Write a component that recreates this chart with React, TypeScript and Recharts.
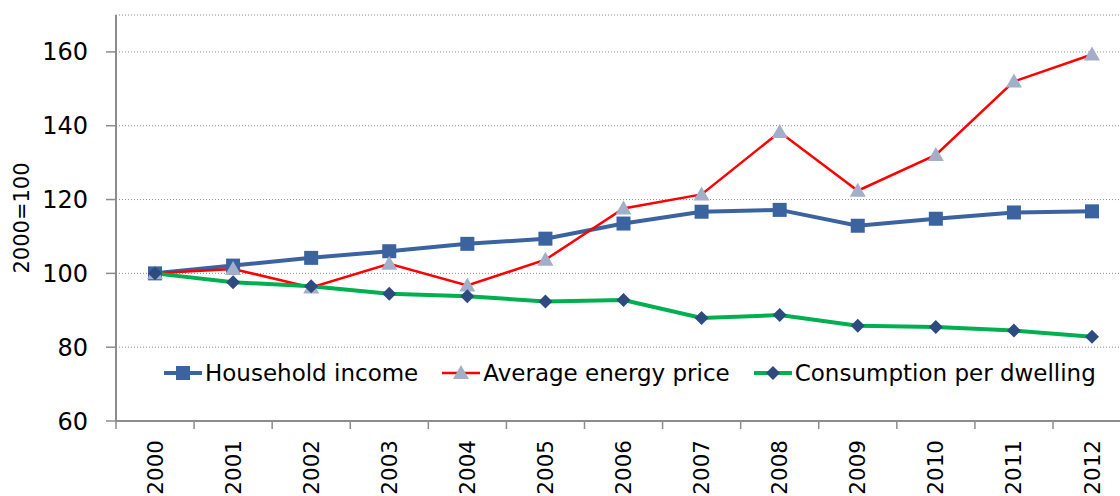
import React from 'react';
import { LineChart, Line, XAxis, YAxis, CartesianGrid, Legend, Label } from 'recharts';

const years = ['2000', '2001', '2002', '2003', '2004', '2005', '2006', '2007', '2008', '2009', '2010', '2011', '2012'];
const householdIncome = [100, 102.1, 104.2, 106.0, 108.0, 109.4, 113.5, 116.7, 117.2, 112.9, 114.8, 116.5, 116.8];
const energyPrice = [100, 101.2, 96.2, 102.6, 96.7, 103.7, 117.6, 121.4, 138.3, 122.4, 132.1, 152.0, 159.3];
const consumption = [100, 97.6, 96.5, 94.5, 93.8, 92.4, 92.8, 87.9, 88.7, 85.8, 85.5, 84.5, 82.8];
const yTicks = [60, 80, 100, 120, 140, 160];

const data = years.map((year, i) => ({
  year,
  income: householdIncome[i],
  price: energyPrice[i],
  consumption: consumption[i],
}));

const FONT = '"DejaVu Sans", sans-serif';
const HALF_STEP = 39; // half the category width, for tick marks between years

const Square = ({ cx, cy, fill }: any) =>
  cx == null ? null : <rect x={cx - 7} y={cy - 7} width={14} height={14} fill={fill} />;

const Triangle = ({ cx, cy, fill }: any) =>
  cx == null ? null : <polygon points={`${cx},${cy - 8} ${cx + 8},${cy + 6} ${cx - 8},${cy + 6}`} fill={fill} />;

const Diamond = ({ cx, cy, fill }: any) =>
  cx == null ? null : <polygon points={`${cx},${cy - 7} ${cx + 7},${cy} ${cx},${cy + 7} ${cx - 7},${cy}`} fill={fill} />;

const series = [
  { key: 'income', name: 'Household income', color: '#3A63A0', width: 4, marker: Square, markerColor: '#3A63A0' },
  { key: 'price', name: 'Average energy price', color: '#FF0000', width: 2.5, marker: Triangle, markerColor: '#A3AEC9' },
  { key: 'consumption', name: 'Consumption per dwelling', color: '#00B050', width: 4, marker: Diamond, markerColor: '#2D4B7E' },
];

// year labels rotated, with tick marks drawn between categories
const YearTick = ({ x, y, payload, index, visibleTicksCount }: any) => (
  <g>
    <line x1={x - HALF_STEP} y1={y - 8} x2={x - HALF_STEP} y2={y} stroke="#8C8C8C" strokeWidth={1.5} />
    {index === visibleTicksCount - 1 && (
      <line x1={x + HALF_STEP} y1={y - 8} x2={x + HALF_STEP} y2={y} stroke="#8C8C8C" strokeWidth={1.5} />
    )}
    <text
      transform={`translate(${x}, ${y + 11}) rotate(-90)`}
      textAnchor="end"
      dominantBaseline="central"
      fontSize={21.5}
      fontFamily={FONT}
      fill="#000"
    >
      {payload.value}
    </text>
  </g>
);

const LegendContent = () => (
  <div style={{ display: 'flex', gap: 23, fontFamily: FONT, fontSize: 23, whiteSpace: 'nowrap' }}>
    {series.map((s) => {
      const Marker = s.marker;
      return (
        <div key={s.key} style={{ display: 'flex', alignItems: 'center' }}>
          <svg width={40} height={20} style={{ marginRight: 2 }}>
            <line x1={1} y1={10} x2={39} y2={10} stroke={s.color} strokeWidth={s.width} />
            <Marker cx={20} cy={10} fill={s.markerColor} />
          </svg>
          <span style={{ color: '#000' }}>{s.name}</span>
        </div>
      );
    })}
  </div>
);

const App: React.FC = () => {
  return (
    <div style={{ position: 'absolute', left: 0, top: 0, width: 1120, height: 496, overflow: 'hidden', background: '#fff' }}>
      <LineChart width={1131} height={496} data={data} margin={{ top: 15, right: 0, bottom: 0, left: 0 }}>
        <CartesianGrid vertical={false} stroke="#8C8C8C" strokeDasharray="1 2" />
        <XAxis
          dataKey="year"
          height={75}
          padding={{ left: HALF_STEP, right: HALF_STEP }}
          axisLine={{ stroke: '#8C8C8C', strokeWidth: 2 }}
          tickLine={false}
          tick={<YearTick />}
          interval={0}
        />
        <YAxis
          width={116}
          domain={[60, 170]}
          ticks={yTicks}
          allowDataOverflow
          axisLine={{ stroke: '#8C8C8C', strokeWidth: 2 }}
          tickLine={{ stroke: '#8C8C8C', strokeWidth: 1.5 }}
          tickSize={10}
          tickMargin={18}
          tick={{ fontSize: 24, fontFamily: FONT, fill: '#000' }}
        >
          <Label
            content={({ viewBox }: any) => (
              <text
                transform={`translate(${viewBox.x + 22}, ${viewBox.y + viewBox.height / 2}) rotate(-90)`}
                textAnchor="middle"
                dominantBaseline="central"
                fontSize={21}
                fontFamily={FONT}
                fill="#000"
              >
                2000=100
              </text>
            )}
          />
        </YAxis>
        <Legend
          layout="horizontal"
          verticalAlign="middle"
          align="center"
          content={<LegendContent />}
          wrapperStyle={{ position: 'absolute', left: 163, top: 360, width: 'auto' }}
        />
        {series.map((s) => {
          const Marker = s.marker;
          return (
            <Line
              key={s.key}
              type="linear"
              dataKey={s.key}
              name={s.name}
              stroke={s.color}
              strokeWidth={s.width}
              dot={<Marker fill={s.markerColor} />}
              activeDot={false}
              isAnimationActive={false}
            />
          );
        })}
      </LineChart>
    </div>
  );
};

export default App;
